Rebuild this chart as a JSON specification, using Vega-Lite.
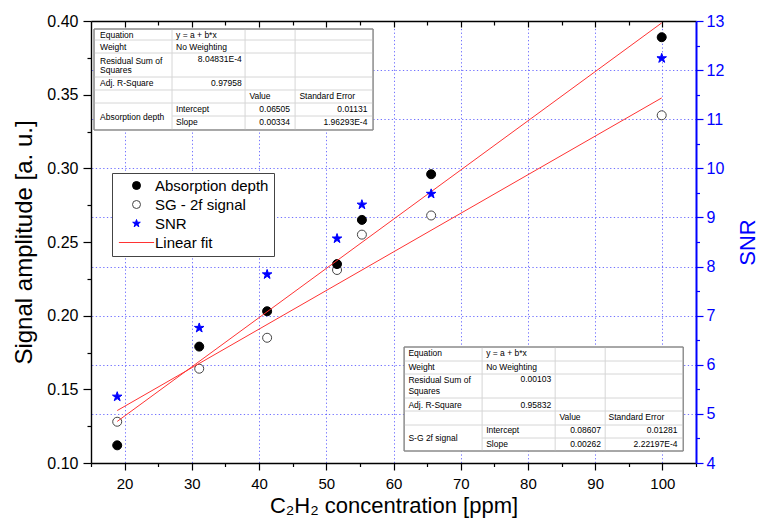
{
  "$schema": "https://vega.github.io/schema/vega-lite/v6.json",
  "width": 605,
  "height": 442,
  "autosize": {"type": "none"},
  "padding": {"left": 91, "top": 21, "right": 66, "bottom": 59},
  "background": "white",
  "config": {
    "view": {"stroke": null},
    "font": "Liberation Sans",
    "axis": {
      "labelFont": "Liberation Sans",
      "titleFont": "Liberation Sans",
      "labelColor": "#000000",
      "titleColor": "#000000",
      "titleFontWeight": "normal",
      "domainColor": "#000000",
      "tickColor": "#000000",
      "domainWidth": 1.4,
      "tickWidth": 1.2
    }
  },
  "datasets": {
    "amp": [
      {"series": "SG - 2f signal", "conc": 18.9, "amp": 0.128},
      {"series": "SG - 2f signal", "conc": 31.1, "amp": 0.164},
      {"series": "SG - 2f signal", "conc": 41.2, "amp": 0.185},
      {"series": "SG - 2f signal", "conc": 51.6, "amp": 0.231},
      {"series": "SG - 2f signal", "conc": 55.3, "amp": 0.255},
      {"series": "SG - 2f signal", "conc": 65.6, "amp": 0.268},
      {"series": "SG - 2f signal", "conc": 99.9, "amp": 0.336},
      {"series": "Absorption depth", "conc": 18.9, "amp": 0.112},
      {"series": "Absorption depth", "conc": 31.1, "amp": 0.179},
      {"series": "Absorption depth", "conc": 41.2, "amp": 0.203},
      {"series": "Absorption depth", "conc": 51.6, "amp": 0.235},
      {"series": "Absorption depth", "conc": 55.3, "amp": 0.265},
      {"series": "Absorption depth", "conc": 65.6, "amp": 0.296},
      {"series": "Absorption depth", "conc": 99.9, "amp": 0.389}
    ],
    "snr": [
      {"series": "SNR", "conc": 18.9, "snr": 5.35},
      {"series": "SNR", "conc": 31.1, "snr": 6.75},
      {"series": "SNR", "conc": 41.2, "snr": 7.84},
      {"series": "SNR", "conc": 51.6, "snr": 8.57},
      {"series": "SNR", "conc": 55.3, "snr": 9.26},
      {"series": "SNR", "conc": 65.6, "snr": 9.48},
      {"series": "SNR", "conc": 99.9, "snr": 12.24}
    ],
    "fits": [
      {"series": "Linear fit", "fit": "Absorption depth", "conc": 18.9, "amp": 0.1282},
      {"series": "Linear fit", "fit": "Absorption depth", "conc": 99.9, "amp": 0.3987},
      {"series": "Linear fit", "fit": "SG - 2f signal", "conc": 18.9, "amp": 0.1356},
      {"series": "Linear fit", "fit": "SG - 2f signal", "conc": 99.9, "amp": 0.3478}
    ],
    "tableBox": [
      {"table": "Absorption depth", "x": 15.45, "x2": 56.96, "y": 0.39457, "y2": 0.32602},
      {"table": "S-G 2f signal", "x": 61.58, "x2": 103.1, "y": 0.17873, "y2": 0.10814}
    ],
    "tableRules": [
      {"x": 27.05, "x2": 27.05, "y": 0.39457, "y2": 0.32602},
      {"x": 37.92, "x2": 37.92, "y": 0.39457, "y2": 0.32602},
      {"x": 45.36, "x2": 45.36, "y": 0.39457, "y2": 0.32602},
      {"x": 15.45, "x2": 56.96, "y": 0.3871, "y2": 0.3871},
      {"x": 15.45, "x2": 56.96, "y": 0.37828, "y2": 0.37828},
      {"x": 15.45, "x2": 56.96, "y": 0.36199, "y2": 0.36199},
      {"x": 15.45, "x2": 56.96, "y": 0.35317, "y2": 0.35317},
      {"x": 15.45, "x2": 56.96, "y": 0.34434, "y2": 0.34434},
      {"x": 27.05, "x2": 56.96, "y": 0.33552, "y2": 0.33552},
      {"x": 73.18, "x2": 73.18, "y": 0.17873, "y2": 0.10814},
      {"x": 84.05, "x2": 84.05, "y": 0.17873, "y2": 0.10814},
      {"x": 91.49, "x2": 91.49, "y": 0.17873, "y2": 0.10814},
      {"x": 61.58, "x2": 103.1, "y": 0.16923, "y2": 0.16923},
      {"x": 61.58, "x2": 103.1, "y": 0.1604, "y2": 0.1604},
      {"x": 61.58, "x2": 103.1, "y": 0.14411, "y2": 0.14411},
      {"x": 61.58, "x2": 103.1, "y": 0.13529, "y2": 0.13529},
      {"x": 61.58, "x2": 103.1, "y": 0.12579, "y2": 0.12579},
      {"x": 73.18, "x2": 103.1, "y": 0.11696, "y2": 0.11696}
    ],
    "tableTextL": [
      {"x": 16.34, "y": 0.3905, "text": "Equation"},
      {"x": 27.65, "y": 0.3905, "text": "y = a + b*x"},
      {"x": 16.34, "y": 0.38256, "text": "Weight"},
      {"x": 27.65, "y": 0.38256, "text": "No Weighting"},
      {"x": 16.34, "y": 0.37305, "text": "Residual Sum of"},
      {"x": 16.34, "y": 0.36674, "text": "Squares"},
      {"x": 16.34, "y": 0.35771, "text": "Adj. R-Square"},
      {"x": 38.56, "y": 0.34909, "text": "Value"},
      {"x": 46.0, "y": 0.34909, "text": "Standard Error"},
      {"x": 16.34, "y": 0.33464, "text": "Absorption depth"},
      {"x": 27.65, "y": 0.34007, "text": "Intercept"},
      {"x": 27.65, "y": 0.33165, "text": "Slope"},
      {"x": 62.22, "y": 0.17445, "text": "Equation"},
      {"x": 73.78, "y": 0.17445, "text": "y = a + b*x"},
      {"x": 62.22, "y": 0.16536, "text": "Weight"},
      {"x": 73.78, "y": 0.16536, "text": "No Weighting"},
      {"x": 62.22, "y": 0.15633, "text": "Residual Sum of"},
      {"x": 62.22, "y": 0.14907, "text": "Squares"},
      {"x": 62.22, "y": 0.13936, "text": "Adj. R-Square"},
      {"x": 84.69, "y": 0.13122, "text": "Value"},
      {"x": 91.98, "y": 0.13122, "text": "Standard Error"},
      {"x": 62.22, "y": 0.11717, "text": "S-G 2f signal"},
      {"x": 73.78, "y": 0.12219, "text": "Intercept"},
      {"x": 73.78, "y": 0.11309, "text": "Slope"}
    ],
    "tableTextR": [
      {"x": 37.43, "y": 0.37421, "text": "8.04831E-4"},
      {"x": 37.43, "y": 0.35771, "text": "0.97958"},
      {"x": 44.61, "y": 0.34007, "text": "0.06505"},
      {"x": 56.12, "y": 0.34007, "text": "0.01131"},
      {"x": 44.61, "y": 0.33165, "text": "0.00334"},
      {"x": 56.12, "y": 0.33165, "text": "1.96293E-4"},
      {"x": 83.45, "y": 0.15701, "text": "0.00103"},
      {"x": 83.45, "y": 0.13936, "text": "0.95832"},
      {"x": 90.85, "y": 0.12219, "text": "0.08607"},
      {"x": 102.25, "y": 0.12219, "text": "0.01281"},
      {"x": 90.85, "y": 0.11309, "text": "0.00262"},
      {"x": 102.25, "y": 0.11309, "text": "2.22197E-4"}
    ]
  },
  "layer": [
    {
      "data": {"name": "amp"},
      "mark": {"type": "point", "size": 81, "opacity": 1, "strokeWidth": 1},
      "encoding": {
        "x": {
          "field": "conc", "type": "quantitative",
          "scale": {"domain": [15, 105], "nice": false, "zero": false},
          "axis": {
            "orient": "bottom",
            "values": [15, 20, 25, 30, 35, 40, 45, 50, 55, 60, 65, 70, 75, 80, 85, 90, 95, 100, 105],
            "title": "C₂H₂ concentration [ppm]",
            "titleFontSize": 22,
            "titlePadding": 4,
            "labelFontSize": 15,
            "labelPadding": 6,
            "labelExpr": "datum.value % 10 === 0 && datum.value >= 20 && datum.value <= 100 ? format(datum.value, 'd') : ''",
            "tickSize": {"condition": {"test": "datum.value % 10 === 0", "value": 7}, "value": 3.5},
            "grid": true,
            "gridColor": "#5a5aff",
            "gridDash": [1.3, 2.4],
            "gridWidth": 1,
            "gridOpacity": {"condition": {"test": "datum.value % 10 === 0 && datum.value >= 20 && datum.value <= 100", "value": 0.85}, "value": 0}
          }
        },
        "y": {
          "field": "amp", "type": "quantitative",
          "scale": {"domain": [0.1, 0.4], "nice": false, "zero": false},
          "axis": {
            "orient": "left",
            "values": [0.1, 0.125, 0.15, 0.175, 0.2, 0.225, 0.25, 0.275, 0.3, 0.325, 0.35, 0.375, 0.4],
            "title": "Signal amplitude [a. u.]",
            "titleFontSize": 24,
            "titlePadding": 10,
            "labelFontSize": 16,
            "labelPadding": 5,
            "labelExpr": "round(datum.value * 1000) % 50 === 0 ? format(datum.value, '.2f') : ''",
            "tickSize": {"condition": {"test": "round(datum.value * 1000) % 50 === 0", "value": 8}, "value": 4},
            "grid": false
          }
        },
        "fill": {
          "field": "series", "type": "nominal",
          "scale": {"domain": ["Absorption depth", "SG - 2f signal", "SNR", "Linear fit"], "range": ["#000000", "#ffffff", "#0000ff", "transparent"]},
          "legend": {"orient": "none", "legendX": 21, "legendY": 152, "title": null, "labelFontSize": 15, "labelFont": "Liberation Sans", "labelColor": "#000000", "symbolSize": 64, "symbolStrokeWidth": 1, "symbolOpacity": 1, "padding": 5, "rowPadding": 3, "strokeColor": "#444444", "fillColor": "#ffffff", "symbolOffset": 12, "labelOffset": 11}
        },
        "stroke": {
          "field": "series", "type": "nominal",
          "scale": {"domain": ["Absorption depth", "SG - 2f signal", "SNR", "Linear fit"], "range": ["#000000", "#444444", "#0000ff", "#ff3333"]},
          "legend": {"orient": "none", "legendX": 21, "legendY": 152, "title": null, "labelFontSize": 15, "labelFont": "Liberation Sans", "labelColor": "#000000", "symbolSize": 64, "symbolStrokeWidth": 1, "symbolOpacity": 1, "padding": 5, "rowPadding": 3, "strokeColor": "#444444", "fillColor": "#ffffff", "symbolOffset": 12, "labelOffset": 11}
        },
        "shape": {
          "field": "series", "type": "nominal",
          "scale": {"domain": ["Absorption depth", "SG - 2f signal", "SNR", "Linear fit"], "range": ["circle", "circle", "M0,-1L0.2245,-0.309L0.951,-0.309L0.363,0.118L0.588,0.809L0,0.382L-0.588,0.809L-0.363,0.118L-0.951,-0.309L-0.2245,-0.309Z", "M-4.4,0L4.4,0"]},
          "legend": {"orient": "none", "legendX": 21, "legendY": 152, "title": null, "labelFontSize": 15, "labelFont": "Liberation Sans", "labelColor": "#000000", "symbolSize": 64, "symbolStrokeWidth": 1, "symbolOpacity": 1, "padding": 5, "rowPadding": 3, "strokeColor": "#444444", "fillColor": "#ffffff", "symbolOffset": 12, "labelOffset": 11}
        }
      }
    },
    {
      "data": {"name": "fits"},
      "mark": {"type": "line", "strokeWidth": 1},
      "encoding": {
        "x": {
          "field": "conc", "type": "quantitative",
          "scale": {"domain": [15, 105], "nice": false, "zero": false},
          "axis": {
            "orient": "top",
            "values": [20, 25, 30, 35, 40, 45, 50, 55, 60, 65, 70, 75, 80, 85, 90, 95, 100],
            "labels": false,
            "title": null,
            "grid": false,
            "tickSize": {"condition": {"test": "datum.value % 10 === 0", "value": -6}, "value": -4}
          }
        },
        "y": {"field": "amp", "type": "quantitative", "scale": {"domain": [0.1, 0.4], "nice": false, "zero": false}, "axis": null},
        "stroke": {"field": "series", "type": "nominal", "scale": {"domain": ["Absorption depth", "SG - 2f signal", "SNR", "Linear fit"], "range": ["#000000", "#444444", "#0000ff", "#ff3333"]}},
        "detail": {"field": "fit"}
      }
    },
    {
      "data": {"name": "tableBox"},
      "mark": {"type": "rect", "fill": "#ffffff", "stroke": "#8a8a8a", "strokeWidth": 1},
      "encoding": {
        "x": {"field": "x", "type": "quantitative", "scale": {"domain": [15, 105], "nice": false, "zero": false}, "axis": null},
        "x2": {"field": "x2"},
        "y": {"field": "y", "type": "quantitative", "scale": {"domain": [0.1, 0.4], "nice": false, "zero": false}, "axis": null},
        "y2": {"field": "y2"}
      }
    },
    {
      "data": {"name": "tableRules"},
      "mark": {"type": "rule", "stroke": "#d6d6d6", "strokeWidth": 1},
      "encoding": {
        "x": {"field": "x", "type": "quantitative", "scale": {"domain": [15, 105], "nice": false, "zero": false}, "axis": null},
        "x2": {"field": "x2"},
        "y": {"field": "y", "type": "quantitative", "scale": {"domain": [0.1, 0.4], "nice": false, "zero": false}, "axis": null},
        "y2": {"field": "y2"}
      }
    },
    {
      "data": {"name": "tableBox"},
      "mark": {"type": "rect", "fill": "transparent", "stroke": "#8a8a8a", "strokeWidth": 1},
      "encoding": {
        "x": {"field": "x", "type": "quantitative", "scale": {"domain": [15, 105], "nice": false, "zero": false}, "axis": null},
        "x2": {"field": "x2"},
        "y": {"field": "y", "type": "quantitative", "scale": {"domain": [0.1, 0.4], "nice": false, "zero": false}, "axis": null},
        "y2": {"field": "y2"}
      }
    },
    {
      "data": {"name": "tableTextL"},
      "mark": {"type": "text", "align": "left", "baseline": "middle", "fontSize": 8.5, "font": "Liberation Sans", "color": "#000000"},
      "encoding": {
        "x": {"field": "x", "type": "quantitative", "scale": {"domain": [15, 105], "nice": false, "zero": false}, "axis": null},
        "y": {"field": "y", "type": "quantitative", "scale": {"domain": [0.1, 0.4], "nice": false, "zero": false}, "axis": null},
        "text": {"field": "text"}
      }
    },
    {
      "data": {"name": "tableTextR"},
      "mark": {"type": "text", "align": "right", "baseline": "middle", "fontSize": 8.5, "font": "Liberation Sans", "color": "#000000"},
      "encoding": {
        "x": {"field": "x", "type": "quantitative", "scale": {"domain": [15, 105], "nice": false, "zero": false}, "axis": null},
        "y": {"field": "y", "type": "quantitative", "scale": {"domain": [0.1, 0.4], "nice": false, "zero": false}, "axis": null},
        "text": {"field": "text"}
      }
    },
    {
      "data": {"name": "snr"},
      "mark": {"type": "point", "size": 100, "opacity": 1, "strokeWidth": 1},
      "encoding": {
        "x": {"field": "conc", "type": "quantitative", "scale": {"domain": [15, 105], "nice": false, "zero": false}, "axis": null},
        "y": {
          "field": "snr", "type": "quantitative",
          "scale": {"domain": [4, 13], "nice": false, "zero": false},
          "axis": {
            "orient": "right",
            "values": [4, 4.5, 5, 5.5, 6, 6.5, 7, 7.5, 8, 8.5, 9, 9.5, 10, 10.5, 11, 11.5, 12, 12.5, 13],
            "title": "SNR",
            "titleFontSize": 22,
            "titleColor": "#0000ff",
            "titleAngle": -90,
            "titleBaseline": "top",
            "titlePadding": 14,
            "labelColor": "#0000ff",
            "labelFontSize": 16,
            "labelPadding": 3,
            "domainColor": "#0000ff",
            "domainWidth": 2,
            "tickColor": "#0000ff",
            "labelExpr": "datum.value % 1 === 0 ? format(datum.value, 'd') : ''",
            "tickSize": {"condition": {"test": "datum.value % 1 === 0", "value": 7}, "value": 3.5},
            "grid": true,
            "gridColor": "#5a5aff",
            "gridDash": [1.3, 2.4],
            "gridWidth": 1,
            "gridOpacity": {"condition": {"test": "datum.value % 1 === 0 && datum.value > 4 && datum.value < 13", "value": 0.85}, "value": 0}
          }
        },
        "fill": {"field": "series", "type": "nominal", "scale": {"domain": ["Absorption depth", "SG - 2f signal", "SNR", "Linear fit"], "range": ["#000000", "#ffffff", "#0000ff", "transparent"]}},
        "stroke": {"field": "series", "type": "nominal", "scale": {"domain": ["Absorption depth", "SG - 2f signal", "SNR", "Linear fit"], "range": ["#000000", "#444444", "#0000ff", "#ff3333"]}},
        "shape": {"field": "series", "type": "nominal", "scale": {"domain": ["Absorption depth", "SG - 2f signal", "SNR", "Linear fit"], "range": ["circle", "circle", "M0,-1L0.2245,-0.309L0.951,-0.309L0.363,0.118L0.588,0.809L0,0.382L-0.588,0.809L-0.363,0.118L-0.951,-0.309L-0.2245,-0.309Z", "M-4.4,0L4.4,0"]}}
      }
    }
  ],
  "resolve": {"scale": {"y": "independent"}, "axis": {"x": "independent"}}
}
